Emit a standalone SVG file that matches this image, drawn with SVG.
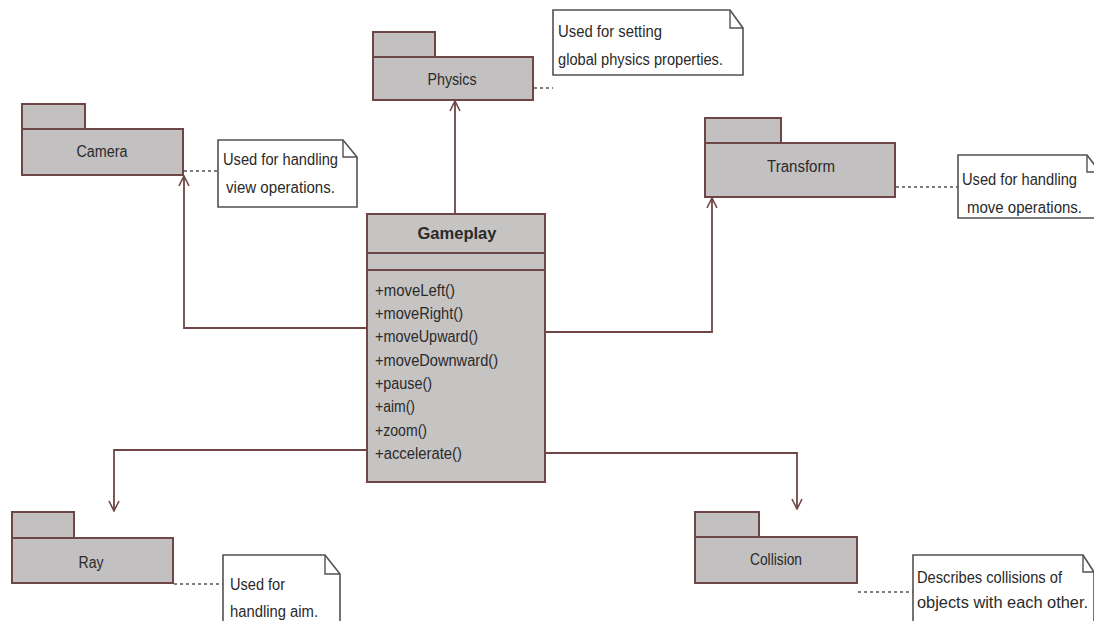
<svg xmlns="http://www.w3.org/2000/svg" width="1094" height="621" viewBox="0 0 1094 621">
  <defs>
    <marker id="open-arrow" viewBox="0 0 12 12" refX="11" refY="6" markerWidth="12" markerHeight="12" markerUnits="userSpaceOnUse" orient="auto">
      <path d="M1,1 L11,6 L1,11" fill="none" stroke="#6e4646" stroke-width="1.6"/>
    </marker>
    <style>
      .pkg { fill: #c2c0c0; stroke: #6e4646; stroke-width: 2; }
      .cls { fill: #c6c3c3; stroke: #6e4646; stroke-width: 2; }
      .note { fill: #ffffff; stroke: #555050; stroke-width: 1.6; }
      .fold { fill: none; stroke: #555050; stroke-width: 1.4; }
      .assoc { fill: none; stroke: #6e4646; stroke-width: 1.8; }
      .link { fill: none; stroke: #5a5050; stroke-width: 1.6; stroke-dasharray: 3 3; }
      text { font-family: "Liberation Sans", Arial, sans-serif; font-size: 16px; fill: #2a2a2a; }
      .title { font-weight: bold; text-anchor: middle; }
      .name { text-anchor: middle; }
    </style>
  </defs>

  <!-- dependencies from Gameplay to each package -->
  <g id="connectors">
    <path class="assoc" d="M455,214 L455,101" marker-end="url(#open-arrow)"/>
    <path class="assoc" d="M367,328 L184,328 L184,176" marker-end="url(#open-arrow)"/>
    <path class="assoc" d="M545,332 L712,332 L712,198" marker-end="url(#open-arrow)"/>
    <path class="assoc" d="M367,450 L114,450 L114,511" marker-end="url(#open-arrow)"/>
    <path class="assoc" d="M545,453 L797,453 L797,509" marker-end="url(#open-arrow)"/>
    <!-- note attachments -->
    <path class="link" d="M534,88 L553,88"/>
    <path class="link" d="M184,171 L218,171"/>
    <path class="link" d="M896,187 L958,187"/>
    <path class="link" d="M174,584 L223,584"/>
    <path class="link" d="M858,592 L913,592"/>
  </g>

  <!-- Gameplay class -->
  <g id="gameplay">
    <rect class="cls" x="367" y="214" width="178" height="268"/>
    <line class="cls" x1="367" y1="253" x2="545" y2="253"/>
    <line class="cls" x1="367" y1="270" x2="545" y2="270"/>
    <text class="title" x="457" y="239" textLength="79" lengthAdjust="spacingAndGlyphs">Gameplay</text>
    <text x="375" y="296" textLength="80" lengthAdjust="spacingAndGlyphs">+moveLeft()</text>
    <text x="375" y="319" textLength="88" lengthAdjust="spacingAndGlyphs">+moveRight()</text>
    <text x="375" y="342" textLength="103" lengthAdjust="spacingAndGlyphs">+moveUpward()</text>
    <text x="375" y="366" textLength="123" lengthAdjust="spacingAndGlyphs">+moveDownward()</text>
    <text x="375" y="389" textLength="57" lengthAdjust="spacingAndGlyphs">+pause()</text>
    <text x="375" y="412" textLength="40" lengthAdjust="spacingAndGlyphs">+aim()</text>
    <text x="375" y="436" textLength="52" lengthAdjust="spacingAndGlyphs">+zoom()</text>
    <text x="375" y="459" textLength="87" lengthAdjust="spacingAndGlyphs">+accelerate()</text>
  </g>

  <!-- Physics package -->
  <g id="physics">
    <rect class="pkg" x="373" y="32" width="62" height="25"/>
    <rect class="pkg" x="373" y="57" width="160" height="43"/>
    <text class="name" x="452" y="85" textLength="49" lengthAdjust="spacingAndGlyphs">Physics</text>
  </g>
  <g id="physics-note">
    <path class="note" d="M553,10 L730,10 L743,28 L743,75 L553,75 Z"/>
    <path class="fold" d="M730,10 L730,28 L743,28"/>
    <text x="558" y="37" textLength="104" lengthAdjust="spacingAndGlyphs">Used for setting</text>
    <text x="558" y="65" textLength="165" lengthAdjust="spacingAndGlyphs">global physics properties.</text>
  </g>

  <!-- Camera package -->
  <g id="camera">
    <rect class="pkg" x="22" y="104" width="63" height="25"/>
    <rect class="pkg" x="22" y="129" width="161" height="46"/>
    <text class="name" x="102" y="157" textLength="51" lengthAdjust="spacingAndGlyphs">Camera</text>
  </g>
  <g id="camera-note">
    <path class="note" d="M218,140 L343,140 L357,157 L357,207 L218,207 Z"/>
    <path class="fold" d="M343,140 L343,157 L357,157"/>
    <text x="223" y="165" textLength="115" lengthAdjust="spacingAndGlyphs">Used for handling</text>
    <text x="226" y="193" textLength="109" lengthAdjust="spacingAndGlyphs">view operations.</text>
  </g>

  <!-- Transform package -->
  <g id="transform">
    <rect class="pkg" x="705" y="118" width="76" height="25"/>
    <rect class="pkg" x="705" y="143" width="190" height="54"/>
    <text class="name" x="801" y="172" textLength="68" lengthAdjust="spacingAndGlyphs">Transform</text>
  </g>
  <g id="transform-note">
    <path class="note" d="M958,155 L1087,155 L1100,172 L1100,218 L958,218 Z"/>
    <path class="fold" d="M1087,155 L1087,172 L1100,172"/>
    <text x="962" y="185" textLength="115" lengthAdjust="spacingAndGlyphs">Used for handling</text>
    <text x="967" y="213" textLength="115" lengthAdjust="spacingAndGlyphs">move operations.</text>
  </g>

  <!-- Ray package -->
  <g id="ray">
    <rect class="pkg" x="12" y="512" width="62" height="26"/>
    <rect class="pkg" x="12" y="538" width="161" height="45"/>
    <text class="name" x="91" y="568" textLength="25" lengthAdjust="spacingAndGlyphs">Ray</text>
  </g>
  <g id="ray-note">
    <path class="note" d="M223,555 L325,555 L340,574 L340,625 L223,625 Z"/>
    <path class="fold" d="M325,555 L325,574 L340,574"/>
    <text x="230" y="590" textLength="55" lengthAdjust="spacingAndGlyphs">Used for</text>
    <text x="230" y="617" textLength="88" lengthAdjust="spacingAndGlyphs">handling aim.</text>
  </g>

  <!-- Collision package -->
  <g id="collision">
    <rect class="pkg" x="695" y="512" width="64" height="25"/>
    <rect class="pkg" x="695" y="537" width="162" height="46"/>
    <text class="name" x="776" y="565" textLength="52" lengthAdjust="spacingAndGlyphs">Collision</text>
  </g>
  <g id="collision-note">
    <path class="note" d="M913,555 L1083,555 L1094,572 L1094,625 L913,625 Z"/>
    <path class="fold" d="M1083,555 L1083,572 L1094,572"/>
    <text x="917" y="583" textLength="145" lengthAdjust="spacingAndGlyphs">Describes collisions of</text>
    <text x="917" y="608" textLength="171" lengthAdjust="spacingAndGlyphs">objects with each other.</text>
  </g>
</svg>
